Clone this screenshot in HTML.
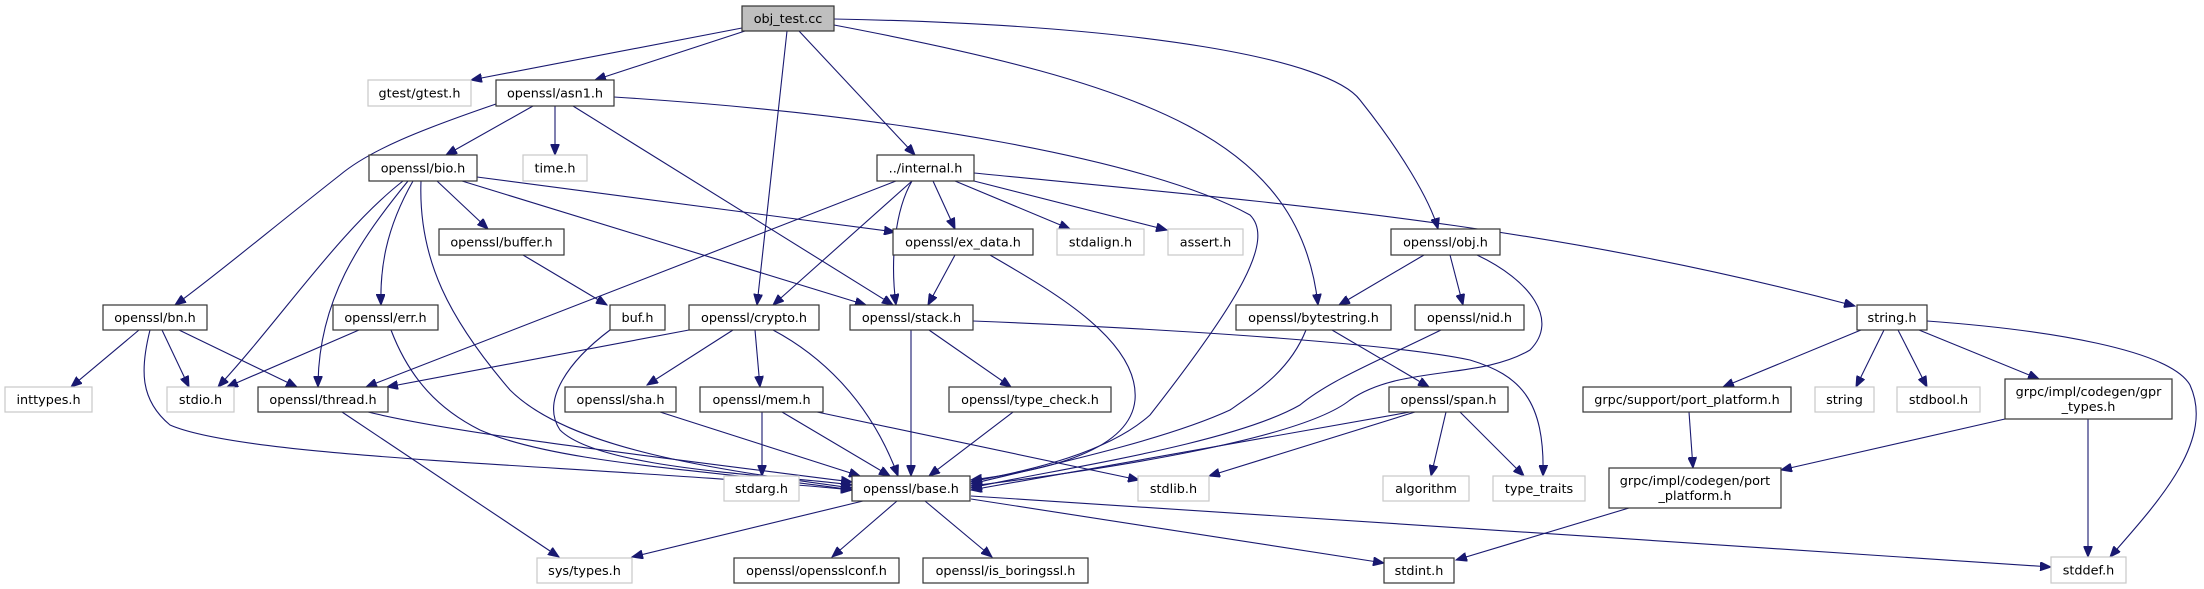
<!DOCTYPE html>
<html><head><meta charset="utf-8"><style>
html,body{margin:0;padding:0;background:#fff;}
svg{display:block;}
text{font-family:"DejaVu Sans","Liberation Sans",sans-serif;font-size:12.8px;fill:#000;}
.e{fill:none;stroke:#191970;stroke-width:1.1;marker-end:url(#a);}
.n{fill:#fff;stroke:#333;stroke-width:1.2;}
.g{fill:#fff;stroke:#c8c8c8;stroke-width:1.2;}
</style></head><body>
<svg width="2204" height="589" viewBox="0 0 2204 589" xmlns="http://www.w3.org/2000/svg">
<defs><marker id="a" markerUnits="userSpaceOnUse" markerWidth="12" markerHeight="9" refX="11" refY="4.5" orient="auto"><path d="M0,0 L11,4.5 L0,9 z" fill="#191970" stroke="#191970"/></marker></defs>

<!-- edges -->
<path class="e" d="M742,28 L471,80"/>
<path class="e" d="M745,31 L595,80"/>
<path class="e" d="M787,31 L757,305"/>
<path class="e" d="M799,31 L915,155"/>
<path class="e" d="M834,25 C1150,85 1300,140 1318,305"/>
<path class="e" d="M834,19 C1150,25 1330,60 1360,100 C1400,150 1430,200 1438,229"/>

<path class="e" d="M533,106 L446,155"/>
<path class="e" d="M555,106 L555,155"/>
<path class="e" d="M496,104 C420,130 370,150 340,175 C270,230 210,280 175,305"/>
<path class="e" d="M573,106 L893,305"/>
<path class="e" d="M614,97 C900,115 1150,160 1250,215 C1275,240 1240,300 1150,415 C1100,460 1000,475 971,482"/>

<path class="e" d="M403,181 C340,230 280,320 218,387"/>
<path class="e" d="M408,181 C360,240 318,300 318,387"/>
<path class="e" d="M413,181 C385,230 380,270 381,305"/>
<path class="e" d="M421,181 C418,260 450,320 510,390 C570,450 720,470 852,488"/>
<path class="e" d="M437,181 L488,229"/>
<path class="e" d="M462,181 L866,305"/>
<path class="e" d="M477,177 L895,232"/>

<path class="e" d="M896,181 L366,387"/>
<path class="e" d="M912,181 L773,305"/>
<path class="e" d="M912,181 C895,210 890,260 896,305"/>
<path class="e" d="M933,181 L955,229"/>
<path class="e" d="M955,181 L1070,229"/>
<path class="e" d="M974,181 L1167,230"/>
<path class="e" d="M974,173 C1300,205 1550,225 1855,306"/>

<path class="e" d="M955,255 L928,305"/>
<path class="e" d="M990,255 C1050,290 1140,340 1135,400 C1130,450 1050,470 971,480"/>
<path class="e" d="M523,255 L607,305"/>
<path class="e" d="M610,330 C570,360 540,400 560,430 C600,470 780,475 852,485"/>

<path class="e" d="M139,330 L71,387"/>
<path class="e" d="M162,330 L189,387"/>
<path class="e" d="M179,330 L297,387"/>
<path class="e" d="M150,330 C140,370 140,400 170,425 C250,460 600,465 852,490"/>
<path class="e" d="M359,330 L227,387"/>
<path class="e" d="M391,330 C410,380 440,410 480,430 C560,465 720,470 852,490"/>

<path class="e" d="M689,330 L387,387"/>
<path class="e" d="M733,330 L647,385"/>
<path class="e" d="M755,330 L760,387"/>
<path class="e" d="M773,330 C820,355 870,400 898,476"/>

<path class="e" d="M368,412 C450,432 600,450 852,482"/>
<path class="e" d="M342,412 L559,557"/>
<path class="e" d="M660,412 L860,476"/>
<path class="e" d="M762,412 L762,476"/>
<path class="e" d="M782,412 L890,476"/>
<path class="e" d="M817,412 L1139,480"/>

<path class="e" d="M911,330 L911,476"/>
<path class="e" d="M929,330 L1011,387"/>
<path class="e" d="M973,321 C1200,330 1400,345 1470,360 C1520,375 1545,400 1543,476"/>
<path class="e" d="M1013,412 L929,476"/>

<path class="e" d="M1306,330 C1290,370 1259,390 1230,410 C1165,440 1050,465 971,484"/>
<path class="e" d="M1332,330 L1429,387"/>
<path class="e" d="M1424,255 L1339,305"/>
<path class="e" d="M1450,255 L1463,305"/>
<path class="e" d="M1477,255 C1530,280 1560,320 1530,350 C1480,380 1400,365 1350,400 C1300,440 1100,470 971,486"/>
<path class="e" d="M1441,330 C1380,360 1330,380 1300,405 C1230,445 1050,470 971,488"/>

<path class="e" d="M1410,412 L971,490"/>
<path class="e" d="M1415,412 L1209,476"/>
<path class="e" d="M1446,412 L1431,476"/>
<path class="e" d="M1460,412 L1524,476"/>

<path class="e" d="M1861,330 L1723,387"/>
<path class="e" d="M1884,330 L1856,387"/>
<path class="e" d="M1898,330 L1927,387"/>
<path class="e" d="M1919,330 L2039,379"/>
<path class="e" d="M1927,321 C2050,330 2170,350 2190,385 C2215,440 2160,500 2110,557"/>
<path class="e" d="M1689,412 L1693,468"/>
<path class="e" d="M2005,419 L1781,470"/>
<path class="e" d="M2088,419 L2088,557"/>
<path class="e" d="M1629,508 L1456,560"/>

<path class="e" d="M863,501 L632,557"/>
<path class="e" d="M897,501 L832,557"/>
<path class="e" d="M925,501 L992,557"/>
<path class="e" d="M971,499 L1384,563"/>
<path class="e" d="M971,496 C1300,515 1700,545 2051,567"/>

<!-- nodes -->
<rect x="742" y="6" width="92" height="25" fill="#bfbfbf" stroke="#333" stroke-width="1.2"/><text x="788" y="23" text-anchor="middle">obj_test.cc</text>
<rect class="g" x="368" y="80" width="103" height="26"/><text x="419.5" y="97.5" text-anchor="middle">gtest/gtest.h</text>
<rect class="n" x="496" y="80" width="118" height="26"/><text x="555" y="97.5" text-anchor="middle">openssl/asn1.h</text>
<rect class="n" x="369" y="155" width="108" height="26"/><text x="423" y="172.5" text-anchor="middle">openssl/bio.h</text>
<rect class="g" x="523" y="155" width="64" height="26"/><text x="555" y="172.5" text-anchor="middle">time.h</text>
<rect class="n" x="877" y="155" width="97" height="26"/><text x="925.5" y="172.5" text-anchor="middle">../internal.h</text>
<rect class="n" x="439" y="229" width="125" height="26"/><text x="501.5" y="246.5" text-anchor="middle">openssl/buffer.h</text>
<rect class="n" x="893" y="229" width="140" height="26"/><text x="963" y="246.5" text-anchor="middle">openssl/ex_data.h</text>
<rect class="g" x="1057" y="229" width="87" height="26"/><text x="1100.5" y="246.5" text-anchor="middle">stdalign.h</text>
<rect class="g" x="1168" y="229" width="75" height="26"/><text x="1205.5" y="246.5" text-anchor="middle">assert.h</text>
<rect class="n" x="1391" y="229" width="109" height="26"/><text x="1445.5" y="246.5" text-anchor="middle">openssl/obj.h</text>
<rect class="n" x="103" y="305" width="104" height="25"/><text x="155" y="322" text-anchor="middle">openssl/bn.h</text>
<rect class="n" x="333" y="305" width="105" height="25"/><text x="385.5" y="322" text-anchor="middle">openssl/err.h</text>
<rect class="n" x="610" y="305" width="55" height="25"/><text x="637.5" y="322" text-anchor="middle">buf.h</text>
<rect class="n" x="689" y="305" width="130" height="25"/><text x="754" y="322" text-anchor="middle">openssl/crypto.h</text>
<rect class="n" x="850" y="305" width="123" height="25"/><text x="911.5" y="322" text-anchor="middle">openssl/stack.h</text>
<rect class="n" x="1236" y="305" width="155" height="25"/><text x="1313.5" y="322" text-anchor="middle">openssl/bytestring.h</text>
<rect class="n" x="1415" y="305" width="109" height="25"/><text x="1469.5" y="322" text-anchor="middle">openssl/nid.h</text>
<rect class="n" x="1857" y="305" width="70" height="25"/><text x="1892" y="322" text-anchor="middle">string.h</text>
<rect class="g" x="5" y="387" width="87" height="25"/><text x="48.5" y="404" text-anchor="middle">inttypes.h</text>
<rect class="g" x="167" y="387" width="67" height="25"/><text x="200.5" y="404" text-anchor="middle">stdio.h</text>
<rect class="n" x="258" y="387" width="130" height="25"/><text x="323" y="404" text-anchor="middle">openssl/thread.h</text>
<rect class="n" x="565" y="387" width="111" height="25"/><text x="620.5" y="404" text-anchor="middle">openssl/sha.h</text>
<rect class="n" x="700" y="387" width="123" height="25"/><text x="761.5" y="404" text-anchor="middle">openssl/mem.h</text>
<rect class="n" x="949" y="387" width="162" height="25"/><text x="1030" y="404" text-anchor="middle">openssl/type_check.h</text>
<rect class="n" x="1389" y="387" width="119" height="25"/><text x="1448.5" y="404" text-anchor="middle">openssl/span.h</text>
<rect class="n" x="1583" y="387" width="208" height="25"/><text x="1687" y="404" text-anchor="middle">grpc/support/port_platform.h</text>
<rect class="g" x="1815" y="387" width="59" height="25"/><text x="1844.5" y="404" text-anchor="middle">string</text>
<rect class="g" x="1897" y="387" width="83" height="25"/><text x="1938.5" y="404" text-anchor="middle">stdbool.h</text>
<rect class="n" x="2005" y="379" width="167" height="40"/><text x="2088.5" y="396" text-anchor="middle">grpc/impl/codegen/gpr</text><text x="2088.5" y="411" text-anchor="middle">_types.h</text>
<rect class="g" x="724" y="476" width="75" height="25"/><text x="761.5" y="493" text-anchor="middle">stdarg.h</text>
<rect class="n" x="852" y="476" width="118" height="25"/><text x="911" y="493" text-anchor="middle">openssl/base.h</text>
<rect class="g" x="1138" y="476" width="71" height="25"/><text x="1173.5" y="493" text-anchor="middle">stdlib.h</text>
<rect class="g" x="1383" y="476" width="86" height="25"/><text x="1426" y="493" text-anchor="middle">algorithm</text>
<rect class="g" x="1493" y="476" width="92" height="25"/><text x="1539" y="493" text-anchor="middle">type_traits</text>
<rect class="n" x="1609" y="468" width="172" height="40"/><text x="1695" y="485" text-anchor="middle">grpc/impl/codegen/port</text><text x="1695" y="500" text-anchor="middle">_platform.h</text>
<rect class="g" x="537" y="558" width="95" height="25"/><text x="584.5" y="575" text-anchor="middle">sys/types.h</text>
<rect class="n" x="734" y="558" width="165" height="25"/><text x="816.5" y="575" text-anchor="middle">openssl/opensslconf.h</text>
<rect class="n" x="923" y="558" width="165" height="25"/><text x="1005.5" y="575" text-anchor="middle">openssl/is_boringssl.h</text>
<rect class="n" x="1384" y="558" width="70" height="25"/><text x="1419" y="575" text-anchor="middle">stdint.h</text>
<rect class="g" x="2051" y="557" width="75" height="26"/><text x="2088.5" y="574.5" text-anchor="middle">stddef.h</text>
</svg>
</body></html>
